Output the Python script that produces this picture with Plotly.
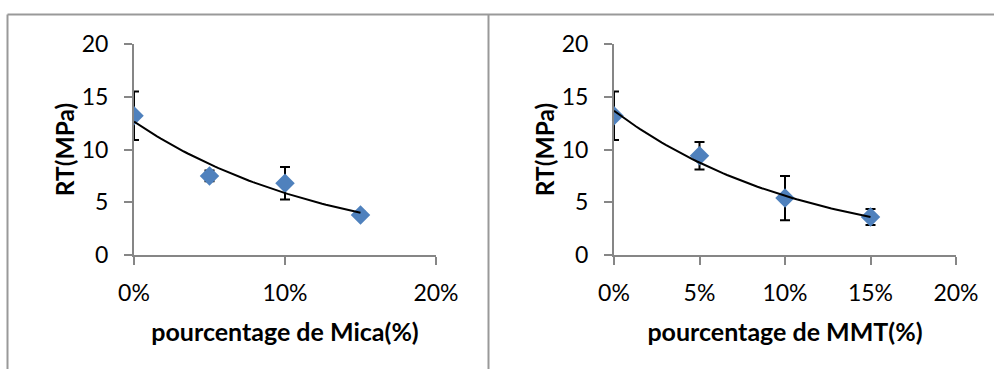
import numpy as np
import plotly.graph_objects as go

# Data
pct = [0.0, 0.05, 0.10, 0.15]
rt_mica = [13.2, 7.5, 6.8, 3.8]
err_mica = [2.3, 0.5, 1.55, 0.3]
rt_mmt = [13.2, 9.4, 5.4, 3.6]
err_mmt = [2.3, 1.3, 2.1, 0.75]

y_ticks = [0, 5, 10, 15, 20]
mica_xticks = [0.0, 0.10, 0.20]
mmt_xticks = [0.0, 0.05, 0.10, 0.15, 0.20]

BLUE = "#4F81BD"
AXIS = "#868686"
FONT = "Lato"


def expfit(x, y):
    b, ln_a = np.polyfit(np.array(x), np.log(np.array(y)), 1)
    xs = np.linspace(min(x), max(x), 60)
    return xs, np.exp(ln_a) * np.exp(b * xs)


fig = go.Figure()

for xa, ya, ys, es in [("x", "y", rt_mica, err_mica), ("x2", "y2", rt_mmt, err_mmt)]:
    fig.add_trace(go.Scatter(
        x=pct, y=ys, mode="markers", xaxis=xa, yaxis=ya, showlegend=False,
        marker=dict(symbol="diamond", size=15, color=BLUE, line=dict(width=0)),
        error_y=dict(type="data", array=es, visible=True, color="black", thickness=2, width=5),
    ))
    tx, ty = expfit(pct, ys)
    fig.add_trace(go.Scatter(
        x=tx, y=ty, mode="lines", xaxis=xa, yaxis=ya, showlegend=False,
        line=dict(color="black", width=2),
    ))

W, H = 994, 369


def xd(a, b):
    return [a / W, b / W]


ydom = [1 - 255 / H, 1 - 44 / H]

common_axis = dict(
    showline=True, linecolor=AXIS, linewidth=2, ticks="outside", ticklen=8,
    tickcolor=AXIS, tickwidth=2, showgrid=False, zeroline=False, automargin=False,
    tickfont=dict(family=FONT, size=23, color="black"),
)
xtitle_font = dict(family=FONT, size=25, color="black", weight="bold")
ytitle_font = dict(family=FONT, size=24.5, color="black", weight="bold")

fig.update_layout(
    width=W, height=H,
    margin=dict(l=0, r=0, t=0, b=0, pad=0, autoexpand=False),
    showlegend=False,
    paper_bgcolor="white", plot_bgcolor="white",
    xaxis=dict(domain=xd(134, 436), range=[0, 0.20], tickvals=mica_xticks,
               tickformat=".0%", anchor="y", ticklabelstandoff=8,
               title=dict(text="pourcentage de Mica(%)", font=xtitle_font, standoff=19),
               **common_axis),
    yaxis=dict(domain=ydom, range=[0, 20], tickvals=y_ticks, anchor="x",
               ticklabelstandoff=11,
               title=dict(text="RT(MPa)", font=ytitle_font, standoff=0),
               **common_axis),
    xaxis2=dict(domain=xd(614, 956), range=[0, 0.20], tickvals=mmt_xticks,
                tickformat=".0%", anchor="y2", ticklabelstandoff=8,
                title=dict(text="pourcentage de MMT(%)", font=xtitle_font, standoff=19),
                **common_axis),
    yaxis2=dict(domain=ydom, range=[0, 20], tickvals=y_ticks, anchor="x2",
                ticklabelstandoff=11,
                title=dict(text="RT(MPa)", font=ytitle_font, standoff=0),
                **common_axis),
)

BORDER = "#999999"
for x0, y0, x1, y1 in [(7.5, 14.5, W, 14.5), (7.5, 14.5, 7.5, H), (488.5, 14.5, 488.5, H)]:
    fig.add_shape(type="line", xref="paper", yref="paper",
                  x0=x0 / W, x1=x1 / W, y0=1 - y0 / H, y1=1 - y1 / H,
                  line=dict(color=BORDER, width=2))

fig.write_html("out.html", config={"displayModeBar": False},
               post_script="document.body.style.margin='0';")
